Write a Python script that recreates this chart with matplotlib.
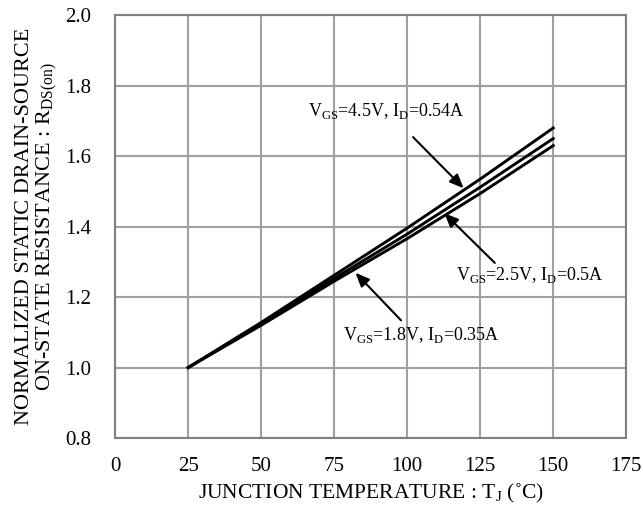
import numpy as np
import matplotlib.pyplot as plt

plt.rcParams['font.family'] = ['Liberation Serif', 'DejaVu Serif']
plt.rcParams['mathtext.fontset'] = 'custom'
plt.rcParams['mathtext.rm'] = 'Liberation Serif'

# 데이터
temp = [25, 50, 75, 100, 125, 150]
r_45 = [1.0, 1.128, 1.262, 1.396, 1.535, 1.680]
r_25 = [1.0, 1.124, 1.253, 1.379, 1.512, 1.650]
r_18 = [1.0, 1.120, 1.245, 1.366, 1.494, 1.630]

labels = [r"V$_{\mathregular{GS}}$=4.5V, I$_{\mathregular{D}}$=0.54A",
          r"V$_{\mathregular{GS}}$=2.5V, I$_{\mathregular{D}}$=0.5A",
          r"V$_{\mathregular{GS}}$=1.8V, I$_{\mathregular{D}}$=0.35A"]
label_xy = [(93.0, 1.727), (142.1, 1.262), (105.0, 1.093)]
arrow_tail = [(102, 1.654), (130, 1.297), (97.9, 1.134)]
arrow_head = [(119.3, 1.509), (112.7, 1.438), (82.3, 1.269)]

fig = plt.figure(figsize=(6.43, 5.07), dpi=100)
ax = fig.add_axes([0.179, 0.136, 0.795, 0.834])

for r in (r_45, r_25, r_18):
    ax.plot(temp, r, color='black', lw=2.1)

for txt, xy, t, h in zip(labels, label_xy, arrow_tail, arrow_head):
    ax.text(xy[0], xy[1], txt, ha='center', va='center', fontsize=13)
    ax.annotate('', xy=h, xytext=t,
                arrowprops=dict(arrowstyle='-|>,head_length=0.7,head_width=0.3',
                                color='black', lw=1.5,
                                mutation_scale=12, shrinkA=0, shrinkB=0))

ax.set_xlim(0, 175)
ax.set_ylim(0.8, 2.0)
ax.set_xticks(np.arange(0, 176, 25))
ax.set_yticks(np.arange(0.8, 2.01, 0.2))
ax.set_yticklabels([f"{v:.1f}" for v in np.arange(0.8, 2.01, 0.2)])
ax.tick_params(length=0, labelsize=15)
ax.tick_params(axis='x', pad=14)
ax.tick_params(axis='y', pad=17)
ax.grid(color='#a0a0a0', lw=1.5)
for s in ax.spines.values():
    s.set_color('#808080')
    s.set_linewidth(1.5)

ax.set_xlabel(r"JUNCTION TEMPERATURE : T$_{\mathregular{J}}$ (˚C)", fontsize=15.5, labelpad=4)
ax.set_ylabel("NORMALIZED STATIC DRAIN-SOURCE\n"
              r"ON-STATE RESISTANCE : R$_{\mathregular{DS(on)}}$", fontsize=16,
              linespacing=1.0, labelpad=4)

fig.savefig('out.png', dpi=100)
